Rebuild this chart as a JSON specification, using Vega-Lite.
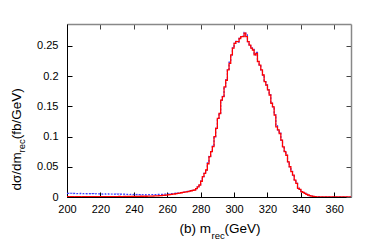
{
"$schema": "https://vega.github.io/schema/vega-lite/v6.json",
"width": 284, "height": 173,
"autosize": "none",
"padding": {"left": 67, "top": 24, "right": 39, "bottom": 44},
"background": "white",
"config": {"view": {"stroke": null}, "font": "Liberation Sans", "axis": {"grid": false, "labelFont": "Liberation Sans", "titleFont": "Liberation Sans", "labelColor": "#000", "titleColor": "#000", "titleFontWeight": "normal", "labelFlush": false}},
"datasets": {
"red": [
{"m":200,"v":0.0004},{"m":201,"v":0.0003},{"m":202,"v":0.0004},{"m":203,"v":0.0005},{"m":204,"v":0.0003},{"m":205,"v":0.0004},{"m":206,"v":0.0005},{"m":207,"v":0.0004},{"m":208,"v":0.0003},{"m":209,"v":0.0005},
{"m":210,"v":0.0004},{"m":211,"v":0.0005},{"m":212,"v":0.0004},{"m":213,"v":0.0006},{"m":214,"v":0.0005},{"m":215,"v":0.0004},{"m":216,"v":0.0005},{"m":217,"v":0.0006},{"m":218,"v":0.0005},{"m":219,"v":0.0004},
{"m":220,"v":0.0006},{"m":221,"v":0.0005},{"m":222,"v":0.0006},{"m":223,"v":0.0005},{"m":224,"v":0.0007},{"m":225,"v":0.0006},{"m":226,"v":0.0005},{"m":227,"v":0.0007},{"m":228,"v":0.0006},{"m":229,"v":0.0007},
{"m":230,"v":0.0006},{"m":231,"v":0.0008},{"m":232,"v":0.0007},{"m":233,"v":0.0006},{"m":234,"v":0.0008},{"m":235,"v":0.0007},{"m":236,"v":0.0008},{"m":237,"v":0.0009},{"m":238,"v":0.0008},{"m":239,"v":0.0009},
{"m":240,"v":0.0010},{"m":241,"v":0.0009},{"m":242,"v":0.0011},{"m":243,"v":0.0010},{"m":244,"v":0.0012},{"m":245,"v":0.0011},{"m":246,"v":0.0013},{"m":247,"v":0.0012},{"m":248,"v":0.0014},{"m":249,"v":0.0014},
{"m":250,"v":0.0015},{"m":251,"v":0.0016},{"m":252,"v":0.0017},{"m":253,"v":0.0019},{"m":254,"v":0.0020},{"m":255,"v":0.0022},{"m":256,"v":0.0024},{"m":257,"v":0.0026},{"m":258,"v":0.0029},{"m":259,"v":0.0032},
{"m":260,"v":0.0035},{"m":261,"v":0.0038},{"m":262,"v":0.0042},{"m":263,"v":0.0046},{"m":264,"v":0.0050},{"m":265,"v":0.0055},{"m":266,"v":0.0060},{"m":267,"v":0.0065},{"m":268,"v":0.0070},{"m":269,"v":0.0075},
{"m":270,"v":0.0080},{"m":271,"v":0.0085},{"m":272,"v":0.0090},{"m":273,"v":0.0097},{"m":274,"v":0.0103},{"m":275,"v":0.0110},{"m":276,"v":0.0116},{"m":277,"v":0.0140},{"m":278,"v":0.0168},{"m":279,"v":0.0198},
{"m":280,"v":0.0260},{"m":281,"v":0.0336},{"m":282,"v":0.0390},{"m":283,"v":0.0446},{"m":284,"v":0.0550},{"m":285,"v":0.0666},{"m":286,"v":0.0750},{"m":287,"v":0.0832},{"m":288,"v":0.0997},{"m":289,"v":0.1135},
{"m":290,"v":0.1300},{"m":291,"v":0.1380},{"m":292,"v":0.1600},{"m":293,"v":0.1660},{"m":294,"v":0.1820},{"m":295,"v":0.1930},{"m":296,"v":0.2100},{"m":297,"v":0.2210},{"m":298,"v":0.2350},{"m":299,"v":0.2460},
{"m":300,"v":0.2540},{"m":301,"v":0.2570},{"m":302,"v":0.2570},{"m":303,"v":0.2620},{"m":304,"v":0.2650},{"m":305,"v":0.2650},{"m":306,"v":0.2710},{"m":307,"v":0.2650},{"m":308,"v":0.2570},{"m":309,"v":0.2510},
{"m":310,"v":0.2460},{"m":311,"v":0.2430},{"m":312,"v":0.2350},{"m":313,"v":0.2375},{"m":314,"v":0.2240},{"m":315,"v":0.2180},{"m":316,"v":0.2100},{"m":317,"v":0.2017},{"m":318,"v":0.1906},{"m":319,"v":0.1850},
{"m":320,"v":0.1770},{"m":321,"v":0.1686},{"m":322,"v":0.1550},{"m":323,"v":0.1490},{"m":324,"v":0.1355},{"m":325,"v":0.1160},{"m":326,"v":0.1110},{"m":327,"v":0.1050},{"m":328,"v":0.0940},{"m":329,"v":0.0830},
{"m":330,"v":0.0750},{"m":331,"v":0.0690},{"m":332,"v":0.0580},{"m":333,"v":0.0500},{"m":334,"v":0.0420},{"m":335,"v":0.0360},{"m":336,"v":0.0280},{"m":337,"v":0.0226},{"m":338,"v":0.0143},{"m":339,"v":0.0127},
{"m":340,"v":0.0088},{"m":341,"v":0.0075},{"m":342,"v":0.0060},{"m":343,"v":0.0045},{"m":344,"v":0.0033},{"m":345,"v":0.0022},{"m":346,"v":0.0014},{"m":347,"v":0.0008},{"m":348,"v":0.0005},{"m":349,"v":0.0003},
{"m":350,"v":0.0002},{"m":351,"v":0.0001},{"m":352,"v":0},{"m":370,"v":0}
],
"blue": [
{"m":200,"v":0.0060},{"m":201,"v":0.0058},{"m":202,"v":0.0062},{"m":203,"v":0.0057},{"m":204,"v":0.0060},{"m":205,"v":0.0055},{"m":206,"v":0.0058},{"m":207,"v":0.0056},{"m":208,"v":0.0060},{"m":209,"v":0.0054},
{"m":210,"v":0.0057},{"m":211,"v":0.0055},{"m":212,"v":0.0053},{"m":213,"v":0.0056},{"m":214,"v":0.0052},{"m":215,"v":0.0055},{"m":216,"v":0.0051},{"m":217,"v":0.0054},{"m":218,"v":0.0050},{"m":219,"v":0.0053},
{"m":220,"v":0.0051},{"m":221,"v":0.0049},{"m":222,"v":0.0052},{"m":223,"v":0.0048},{"m":224,"v":0.0051},{"m":225,"v":0.0047},{"m":226,"v":0.0050},{"m":227,"v":0.0046},{"m":228,"v":0.0049},{"m":229,"v":0.0045},
{"m":230,"v":0.0048},{"m":231,"v":0.0044},{"m":232,"v":0.0047},{"m":233,"v":0.0043},{"m":234,"v":0.0046},{"m":235,"v":0.0042},{"m":236,"v":0.0045},{"m":237,"v":0.0041},{"m":238,"v":0.0044},{"m":239,"v":0.0040},
{"m":240,"v":0.0043},{"m":241,"v":0.0039},{"m":242,"v":0.0042},{"m":243,"v":0.0038},{"m":244,"v":0.0041},{"m":245,"v":0.0037},{"m":246,"v":0.0040},{"m":247,"v":0.0036},{"m":248,"v":0.0039},{"m":249,"v":0.0037},
{"m":250,"v":0.0040},{"m":251,"v":0.0038},{"m":252,"v":0.0041},{"m":253,"v":0.0039},{"m":254,"v":0.0043},{"m":255,"v":0.0042},{"m":256,"v":0.0044},{"m":257,"v":0.0045},{"m":258,"v":0.0047},{"m":259,"v":0.0048},
{"m":260,"v":0.0050},{"m":261,"v":0.0052},{"m":262,"v":0.0055},{"m":263,"v":0.0057},{"m":264,"v":0.0060},{"m":265,"v":0.0063},{"m":266,"v":0.0066},{"m":267,"v":0.0070},{"m":268,"v":0.0074},{"m":269,"v":0.0078},
{"m":270,"v":0.0083},{"m":271,"v":0.0088},{"m":272,"v":0.0093},{"m":273,"v":0.0099},{"m":274,"v":0.0105},{"m":275,"v":0.0112},{"m":276,"v":0.0120},{"m":277,"v":0.0142},{"m":278,"v":0.0170},{"m":279,"v":0.0202},
{"m":280,"v":0.0262},{"m":281,"v":0.0338},{"m":282,"v":0.0392},{"m":283,"v":0.0450},{"m":284,"v":0.0565},{"m":285,"v":0.0670},{"m":286,"v":0.0752},{"m":287,"v":0.0840},{"m":288,"v":0.0995},{"m":289,"v":0.1140},
{"m":290,"v":0.1300},{"m":291,"v":0.1385},{"m":292,"v":0.1600},{"m":293,"v":0.1665},{"m":294,"v":0.1820},{"m":295,"v":0.1935},{"m":296,"v":0.2100},{"m":297,"v":0.2230},{"m":298,"v":0.2350},{"m":299,"v":0.2465},
{"m":300,"v":0.2540},{"m":301,"v":0.2575},{"m":302,"v":0.2560},{"m":303,"v":0.2640},{"m":304,"v":0.2650},{"m":305,"v":0.2660},{"m":306,"v":0.2720},{"m":307,"v":0.2680},{"m":308,"v":0.2570},{"m":309,"v":0.2515},
{"m":310,"v":0.2460},{"m":311,"v":0.2440},{"m":312,"v":0.2350},{"m":313,"v":0.2390},{"m":314,"v":0.2240},{"m":315,"v":0.2185},{"m":316,"v":0.2100},{"m":317,"v":0.2020},{"m":318,"v":0.1906},{"m":319,"v":0.1855},
{"m":320,"v":0.1770},{"m":321,"v":0.1690},{"m":322,"v":0.1550},{"m":323,"v":0.1495},{"m":324,"v":0.1360},{"m":325,"v":0.1180},{"m":326,"v":0.1110},{"m":327,"v":0.1055},{"m":328,"v":0.0940},{"m":329,"v":0.0835},
{"m":330,"v":0.0760},{"m":331,"v":0.0690},{"m":332,"v":0.0585},{"m":333,"v":0.0500},{"m":334,"v":0.0425},{"m":335,"v":0.0360},{"m":336,"v":0.0285},{"m":337,"v":0.0226},{"m":338,"v":0.0148},{"m":339,"v":0.0127},
{"m":340,"v":0.0090},{"m":341,"v":0.0075},{"m":342,"v":0.0062},{"m":343,"v":0.0045},{"m":344,"v":0.0034},{"m":345,"v":0.0022},{"m":346,"v":0.0015},{"m":347,"v":0.0008},{"m":348,"v":0.0005},{"m":349,"v":0.0003},
{"m":350,"v":0.0002},{"m":351,"v":0.0001},{"m":352,"v":0},{"m":370,"v":0}
]
},
"layer": [
{
"data": {"name": "blue"},
"mark": {"type": "line", "interpolate": "step-after", "color": "#3c3cff", "strokeWidth": 1.2, "strokeDash": [2, 1.5], "clip": true},
"encoding": {
"x": {"field": "m", "type": "quantitative", "scale": {"domain": [200, 370], "nice": false, "zero": false},
"axis": {"orient": "bottom", "values": [200,220,240,260,280,300,320,340,360], "tickSize": -5, "labelPadding": 11, "labelFontSize": 11, "domainColor": "#000", "tickColor": "#000", "domainWidth": 1, "title": "(b) m\u2009\u2009\u2009\u2009\u2009(GeV)", "titleFontSize": 13.5, "titleX": 112, "titleY": 35, "titleAlign": "left", "titleBaseline": "alphabetic", "titleAnchor": null}},
"y": {"field": "v", "type": "quantitative", "scale": {"domain": [0, 0.286], "nice": false},
"axis": {"orient": "left", "values": [0,0.05,0.1,0.15,0.2,0.25], "format": "~g", "tickSize": -5, "labelPadding": 14, "labelFontSize": 11, "domainColor": "#000", "tickColor": "#000", "domainWidth": 1, "title": "dσ/dm    \u2009\u2009 (fb/GeV)", "titleFontSize": 13.5, "titleAngle": 270, "titleX": -46.5, "titleY": 166, "titleAlign": "left", "titleBaseline": "alphabetic", "titleAnchor": null}}
}
},
{
"data": {"name": "red"},
"mark": {"type": "line", "interpolate": "step-after", "color": "#ff0000", "strokeWidth": 1.3, "clip": true},
"encoding": {
"x": {"field": "m", "type": "quantitative", "scale": {"domain": [200, 370], "nice": false, "zero": false},
"axis": {"orient": "top", "values": [200,220,240,260,280,300,320,340,360], "labels": false, "tickSize": -5, "domainColor": "#888", "domainWidth": 1.5, "tickColor": "#444", "title": "rec", "titleFontSize": 9.5, "titleX": 144, "titleY": 214, "titleAlign": "left", "titleBaseline": "alphabetic", "titleAnchor": null}},
"y": {"field": "v", "type": "quantitative", "scale": {"domain": [0, 0.286], "nice": false},
"axis": {"orient": "right", "values": [0,0.05,0.1,0.15,0.2,0.25], "labels": false, "tickSize": -5, "domainColor": "#888", "domainWidth": 1.5, "tickColor": "#444", "title": "rec", "titleFontSize": 9.5, "titleAngle": 270, "titleX": -327, "titleY": 128, "titleAlign": "left", "titleBaseline": "alphabetic", "titleAnchor": null}}
}
}
],
"resolve": {"axis": {"x": "independent", "y": "independent"}}
}
